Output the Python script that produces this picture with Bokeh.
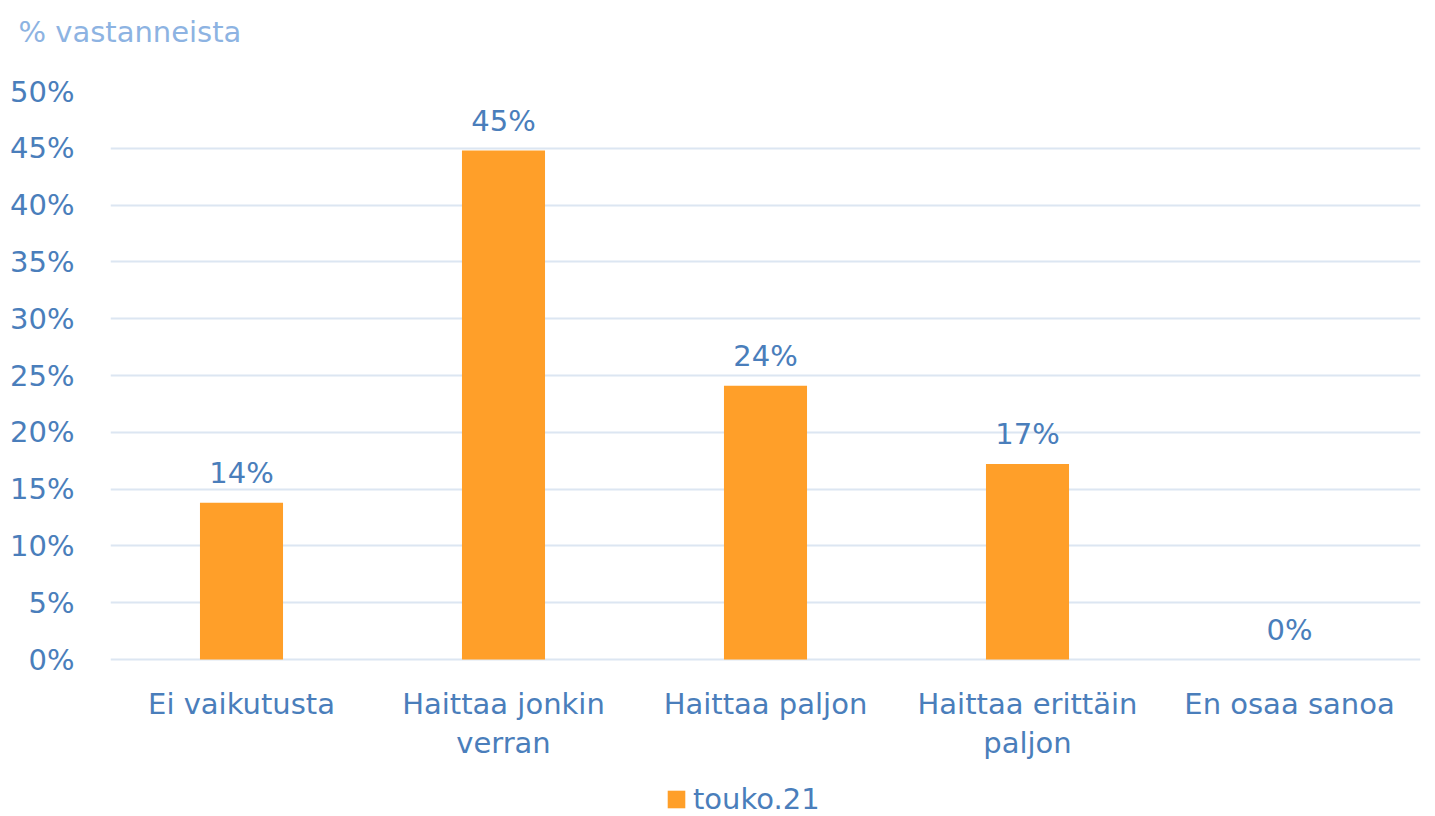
from bokeh.plotting import figure
from bokeh.models import (ColumnDataSource, FixedTicker, PrintfTickFormatter,
                          Legend, LegendItem, LabelSet)
from bokeh.core.properties import value
from bokeh.embed import file_html
from bokeh.resources import INLINE

categories = ["Ei vaikutusta", "Haittaa jonkin verran", "Haittaa paljon",
              "Haittaa erittäin paljon", "En osaa sanoa"]
tick_line1 = ["Ei vaikutusta", "Haittaa jonkin", "Haittaa paljon",
              "Haittaa erittäin", "En osaa sanoa"]
tick_line2 = ["", "verran", "", "paljon", ""]
values = [13.8, 44.8, 24.1, 17.2, 0.0]
value_labels = ["14%", "45%", "24%", "17%", "0%"]
series_name = "touko.21"
title_text = "% vastanneista"
y_ticks = [0, 5, 10, 15, 20, 25, 30, 35, 40, 45, 50]

FONT = "DejaVu Sans"
FS = "29px"
LABEL_COLOR = "#4A7EBB"
TITLE_COLOR = "#8DB3E2"
BAR_COLOR = "#FF9F29"
GRID_COLOR = "#DCE6F2"

# layout: frame 725 px tall, 11.36 px per percentage point
Y_BOTTOM = 50 - 725 / 11.36

src = ColumnDataSource(dict(cat=categories, val=values, lab=value_labels,
                            l1=tick_line1, l2=tick_line2,
                            zero=[0] * len(categories)))

p = figure(x_range=categories, y_range=(Y_BOTTOM, 50), width=1435, height=816,
           output_backend="svg", toolbar_location=None,
           min_border_left=110, min_border_right=15, min_border_top=91,
           min_border_bottom=0)
p.outline_line_color = None

# trailing blank line lifts the title towards the top edge
p.title.text = title_text + "\n"
p.title.text_font = FONT
p.title.text_font_size = FS
p.title.text_font_style = "normal"
p.title.text_color = TITLE_COLOR
p.title.align = "left"
p.title.offset = -92
p.title.standoff = 17

bars = p.vbar(x="cat", top="val", width=0.317, source=src,
              fill_color=BAR_COLOR, line_color=None)

common = dict(text_font=value(FONT), text_font_size=FS,
              text_color=LABEL_COLOR, text_align="center",
              text_baseline="middle")
p.add_layout(LabelSet(x="cat", y="val", text="lab", source=src,
                      y_offset=30, **common))
p.add_layout(LabelSet(x="cat", y="zero", text="l1", source=src,
                      y_offset=-44, **common))
p.add_layout(LabelSet(x="cat", y="zero", text="l2", source=src,
                      y_offset=-83, **common))

p.xgrid.grid_line_color = None
p.ygrid.grid_line_color = GRID_COLOR
p.ygrid.grid_line_width = 2
p.ygrid.ticker = FixedTicker(ticks=y_ticks)

p.xaxis.visible = False
p.yaxis.ticker = FixedTicker(ticks=y_ticks)
p.yaxis.formatter = PrintfTickFormatter(format="%d%%")
ax = p.yaxis[0]
ax.axis_line_color = None
ax.major_tick_line_color = None
ax.minor_tick_line_color = None
ax.major_label_text_font = FONT
ax.major_label_text_font_size = FS
ax.major_label_text_color = LABEL_COLOR
ax.major_label_standoff = 30

legend = Legend(items=[LegendItem(label=series_name, renderers=[bars])],
                orientation="horizontal", location=(555, 0),
                border_line_color=None, background_fill_alpha=0,
                label_text_font=FONT, label_text_font_size=FS,
                label_text_color=LABEL_COLOR, glyph_width=22, glyph_height=22,
                label_standoff=6, padding=0, margin=0, spacing=0)
p.add_layout(legend, "center")

open("out.html", "w").write(file_html(p, INLINE))
